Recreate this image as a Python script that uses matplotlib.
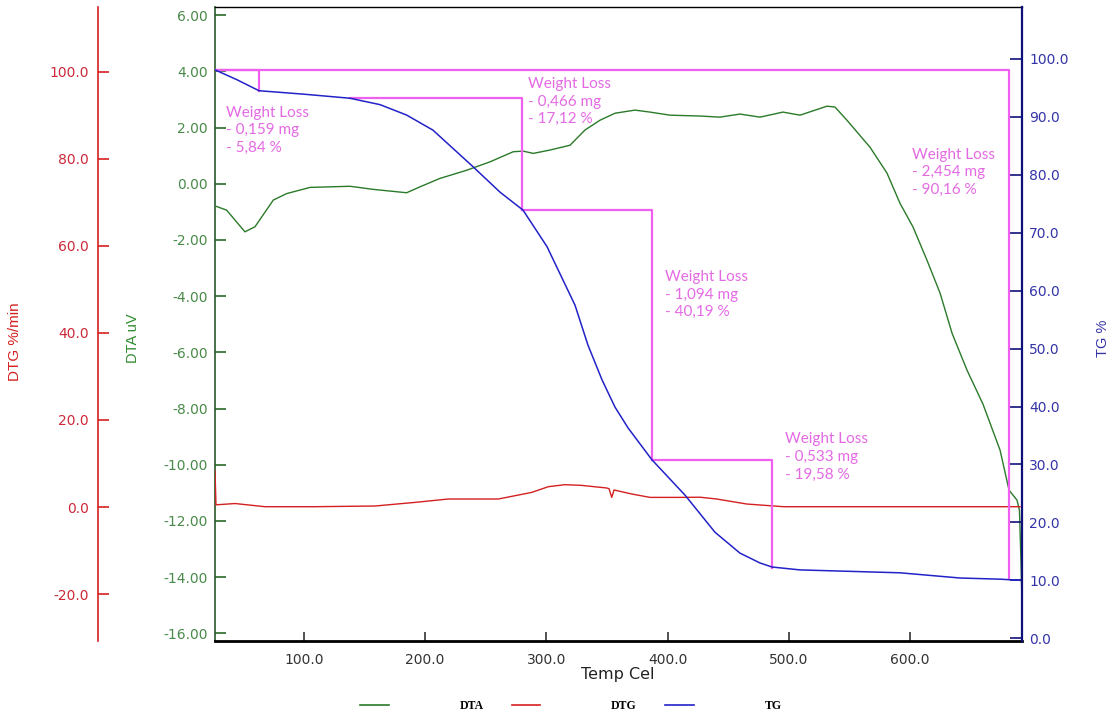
import matplotlib
matplotlib.use("Agg")
import matplotlib.pyplot as plt
from matplotlib.lines import Line2D
from matplotlib.ticker import FormatStrFormatter

# ---------------- data ----------------
temp_tg = [26.6, 44.7, 62.9, 100.0, 138.0, 162.7, 184.7, 206.4, 239.4, 261.7, 280.7,
           300.5, 323.6, 334.3, 345.9, 356.6, 367.4, 387.1, 414.4, 439.1, 459.7, 476.2,
           486.1, 509.2, 591.7, 641.3, 674.3, 690.8]
tg = [98.1, 96.4, 94.5, 93.9, 93.2, 92.1, 90.3, 87.7, 81.4, 77.0, 73.9,
      67.6, 57.5, 50.6, 44.6, 39.9, 36.3, 30.8, 24.7, 18.3, 14.7, 13.0,
      12.3, 11.8, 11.3, 10.4, 10.2, 10.0]

temp_dta = [27.4, 36.2, 51.3, 59.6, 74.7, 85.7, 105.0, 138.0, 157.2, 184.7, 195.7,
            212.2, 234.2, 253.5, 272.7, 280.9, 289.2, 303.0, 319.5, 331.8, 344.2,
            356.6, 373.1, 385.5, 402.0, 426.7, 443.2, 459.7, 476.2, 495.2, 509.2,
            531.5, 538.1, 548.0, 556.3, 567.0, 581.0, 591.7, 602.5, 614.0, 624.8,
            634.7, 647.0, 660.2, 674.3, 681.7, 688.3, 690.3, 690.8, 691.6, 692.2]
dta = [-0.80, -0.94, -1.71, -1.53, -0.58, -0.35, -0.13, -0.09, -0.20, -0.32, -0.11,
       0.19, 0.48, 0.78, 1.14, 1.16, 1.08, 1.20, 1.37, 1.91, 2.26,
       2.51, 2.62, 2.55, 2.44, 2.41, 2.37, 2.48, 2.37, 2.55, 2.44,
       2.76, 2.73, 2.26, 1.84, 1.30, 0.38, -0.69, -1.54, -2.72, -3.89,
       -5.32, -6.63, -7.84, -9.48, -10.90, -11.26, -11.62, -12.33, -13.50, -14.57]

temp_dtg = [26.6, 27.4, 43.1, 67.8, 109.1, 158.6, 191.6, 219.1, 260.4, 287.9, 301.6,
            315.3, 329.1, 349.8, 351.7, 353.9, 355.8, 370.4, 385.5, 411.7, 426.7,
            440.5, 465.2, 495.5, 690.8]
dtg = [8.3, 0.5, 0.8, 0.07, 0.07, 0.23, 1.06, 1.84, 1.84, 3.36, 4.67,
       5.13, 4.97, 4.37, 4.2, 2.21, 3.91, 2.99, 2.21, 2.21, 2.25,
       1.84, 0.69, 0.07, 0.07]

# weight-loss step markers (TG units)
wl_start = [26.6, 26.6, 138.0, 280.0, 387.1]
wl_end = [62.9, 681.7, 280.0, 387.1, 486.1]
wl_top = [98.1, 98.1, 93.3, 74.0, 30.8]
wl_bottom = [94.5, 10.2, 74.0, 30.8, 12.1]
wl_labels = ["Weight Loss\n- 0,159 mg\n- 5,84 %",
             "Weight Loss\n- 2,454 mg\n- 90,16 %",
             "Weight Loss\n- 0,466 mg\n- 17,12 %",
             "Weight Loss\n- 1,094 mg\n- 40,19 %",
             "Weight Loss\n- 0,533 mg\n- 19,58 %"]
wl_text_x = [35.6, 601.7, 284.8, 397.9, 496.9]
wl_text_y = [87.7, 80.4, 92.6, 59.3, 31.3]

x_ticks = [100, 200, 300, 400, 500, 600]
dta_ticks = [-16, -14, -12, -10, -8, -6, -4, -2, 0, 2, 4, 6]
dtg_ticks = [-20, 0, 20, 40, 60, 80, 100]
tg_ticks = [0, 10, 20, 30, 40, 50, 60, 70, 80, 90, 100]

# ---------------- styling ----------------
C_DTA = "#2a7a2a"
C_DTA_LBL = "#4a8a4a"
C_DTG = "#d42020"
C_DTG_LBL = "#cc2a3a"
C_TG = "#2222c8"
C_TG_LBL = "#3434a8"
C_MAG = "#f060f0"
C_MAG_TXT = "#e46ae4"

plt.rcParams["font.family"] = ["DejaVu Sans"]

fig = plt.figure(figsize=(11.16, 7.16), dpi=100)
ax = fig.add_axes([0.19265, 0.10475, 0.72312, 0.88589])

# DTA (main)
ax.plot(temp_dta, dta, color=C_DTA, lw=1.0, zorder=3)
ax.set_xlim(26.6, 692.4)
ax.set_ylim(-16.27, 6.30)
ax.set_xticks(x_ticks)
ax.set_yticks(dta_ticks)
ax.xaxis.set_major_formatter(FormatStrFormatter("%.1f"))
ax.yaxis.set_major_formatter(FormatStrFormatter("%.2f"))
ax.tick_params(axis="y", direction="in", length=8, width=1.2, color="#2a6a2a",
               labelcolor=C_DTA_LBL, labelsize=10, pad=5)
ax.tick_params(axis="x", direction="in", length=6.5, width=1.2, color="#333333",
               labelcolor="#333333", labelsize=10, pad=9)
ax.spines["left"].set_color("#2a5a2a")
ax.spines["left"].set_linewidth(1.2)
ax.spines["bottom"].set_linewidth(2.0)
ax.spines["bottom"].set_color("black")
ax.spines["top"].set_linewidth(1.0)
ax.spines["right"].set_visible(False)

# DTG (outer left axis)
ax3 = ax.twinx()
ax3.plot(temp_dtg, dtg, color=C_DTG, lw=1.0, zorder=3)
ax3.set_ylim(-30.8, 115.0)
ax3.set_yticks(dtg_ticks)
ax3.yaxis.set_major_formatter(FormatStrFormatter("%.1f"))
ax3.spines["left"].set_position(("axes", -0.1446))
ax3.spines["left"].set_visible(True)
ax3.spines["left"].set_color(C_DTG)
ax3.spines["left"].set_linewidth(1.2)
for s in ("right", "top", "bottom"):
    ax3.spines[s].set_visible(False)
ax3.yaxis.set_ticks_position("left")
ax3.tick_params(axis="y", direction="in", length=8, width=1.2, color=C_DTG,
                labelcolor=C_DTG_LBL, labelsize=10, pad=7)

# TG (right axis)
ax2 = ax.twinx()
ax2.set_ylim(-0.47, 109.0)
ax2.set_yticks(tg_ticks)
ax2.yaxis.set_major_formatter(FormatStrFormatter("%.1f"))
for s in ("left", "top", "bottom"):
    ax2.spines[s].set_visible(False)
ax2.spines["right"].set_color("#10107a")
ax2.spines["right"].set_linewidth(1.6)
ax2.tick_params(axis="y", direction="in", length=9, width=1.2, color="#10107a",
                labelcolor=C_TG_LBL, labelsize=10, pad=5)

for xs, xe, yt, yb in zip(wl_start, wl_end, wl_top, wl_bottom):
    ax2.plot([xs, xe, xe], [yt, yt, yb], color=C_MAG, lw=1.6, zorder=2)
ax2.plot(temp_tg, tg, color=C_TG, lw=1.1, zorder=4)

for lbl, tx, ty in zip(wl_labels, wl_text_x, wl_text_y):
    ax2.text(tx, ty, lbl, color=C_MAG_TXT, fontsize=11, family=["Lato", "DejaVu Sans"],
             ha="left", va="center", linespacing=1.32, zorder=5)

# axis titles
fig.text(15 / 1116, 1 - 342 / 716, "DTG %/min", rotation=90, color=C_DTG,
         fontsize=11, family=["Liberation Sans"], ha="center", va="center")
fig.text(133 / 1116, 1 - 338 / 716, "DTA uV", rotation=90, color="#2e8b2e",
         fontsize=10.5, family=["Liberation Sans"], ha="center", va="center")
fig.text(1103 / 1116, 1 - 338 / 716, "TG %", rotation=90, color=C_TG_LBL,
         fontsize=10.5, family=["Liberation Sans"], ha="center", va="center")
fig.text(618 / 1116, 1 - 674 / 716, "Temp Cel", color="#222222",
         fontsize=11.5, ha="center", va="center")

# legend
handles = [Line2D([], [], color=C_DTA, lw=1.2),
           Line2D([], [], color=C_DTG, lw=1.2),
           Line2D([], [], color=C_TG, lw=1.2)]
fig.legend(handles, ["DTA", "DTG", "TG"], loc="center",
           bbox_to_anchor=(571 / 1116, 1 - 706 / 716), ncol=3, frameon=False,
           prop={"family": "Liberation Serif", "size": 8.5, "weight": "bold"},
           handlelength=2.4, handletextpad=6.0, columnspacing=2.4)

fig.savefig("out.png", dpi=100)
